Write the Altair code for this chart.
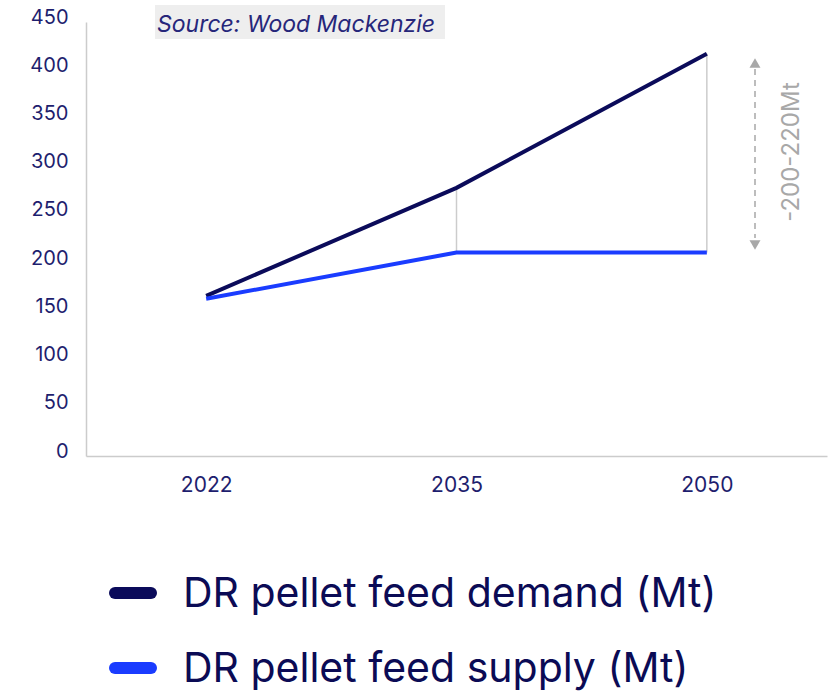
import altair as alt
import pandas as pd

years = ["2022", "2035", "2050"]
demand = [166, 278, 417]
supply = [163, 211, 211]
series_names = ["DR pellet feed demand (Mt)", "DR pellet feed supply (Mt)"]
series_colors = ["#0b0b5a", "#1a3cff"]
y_ticks = [0, 50, 100, 150, 200, 250, 300, 350, 400, 450]
source_text = "Source: Wood Mackenzie"
gap_text = "-200-220Mt"

rows = []
for yr, d, s in zip(years, demand, supply):
    rows.append({"year": yr, "series": series_names[0], "value": d})
    rows.append({"year": yr, "series": series_names[1], "value": s})
df = pd.DataFrame(rows)
gap_df = pd.DataFrame({"year": years[1:], "lo": supply[1:], "hi": demand[1:]})

AX = "#1e1e6e"
GRAY = "#cccccc"
ANN = "#a8a8a8"

xscale = alt.Scale(type="point", domain=years, padding=0.48)
yscale = alt.Scale(domain=[0, 450])
color = alt.Color("series:N", scale=alt.Scale(domain=series_names, range=series_colors), legend=None)

x_enc = alt.X("year:N", scale=xscale, sort=years,
              axis=alt.Axis(title=None, labelAngle=0, labelAlign="center", labelFontSize=21,
                            labelColor=AX, labelFont="Inter", ticks=False, labelPadding=29,
                            domainColor=GRAY, domainWidth=1.5, grid=False))
y_enc = alt.Y("value:Q", scale=yscale,
              axis=alt.Axis(title=None, values=y_ticks, labelFontSize=20, labelColor=AX,
                            labelFont="Inter", ticks=False, labelPadding=18, labelOffset=-5,
                            domainColor=GRAY, domainWidth=1.5, grid=False))

gaps = alt.Chart(gap_df).mark_rule(color=GRAY, strokeWidth=1.5).encode(
    x=alt.X("year:N", scale=xscale, sort=years),
    y=alt.Y("lo:Q", scale=yscale),
    y2="hi:Q",
)

lines = alt.Chart(df).mark_line(strokeWidth=4).encode(x=x_enc, y=y_enc, color=color)

box = alt.Chart(pd.DataFrame({"t": [source_text]})).mark_rect(color="#eeeeee").encode(
    x=alt.value(69), x2=alt.value(359), y=alt.value(-17), y2=alt.value(17))
src = alt.Chart(pd.DataFrame({"t": [source_text]})).mark_text(
    align="left", baseline="middle", fontSize=23, fontStyle="italic", font="Inter",
    color="#26267a").encode(x=alt.value(71), y=alt.value(3), text="t:N")

arrow_line = alt.Chart(pd.DataFrame({"a": [0]})).mark_rule(
    color=ANN, strokeWidth=1.5, strokeDash=[6, 5]).encode(
    x=alt.value(669), y=alt.value(47), y2=alt.value(216))
arrow_up = alt.Chart(pd.DataFrame({"a": [0]})).mark_point(
    shape="triangle-up", filled=True, color=ANN, size=120, opacity=1).encode(
    x=alt.value(669), y=alt.value(41))
arrow_dn = alt.Chart(pd.DataFrame({"a": [0]})).mark_point(
    shape="triangle-down", filled=True, color=ANN, size=120, opacity=1).encode(
    x=alt.value(669), y=alt.value(223))
gap_label = alt.Chart(pd.DataFrame({"t": [gap_text]})).mark_text(
    angle=270, align="center", baseline="middle", fontSize=24, font="Inter",
    color=ANN).encode(x=alt.value(706), y=alt.value(130), text="t:N")

leg_layers = []
leg_y = [571, 646]
for name, yy in zip(series_names, leg_y):
    ld = pd.DataFrame({"series": [name]})
    leg_layers.append(alt.Chart(ld).mark_rule(strokeWidth=12, strokeCap="round").encode(
        x=alt.value(29), x2=alt.value(65), y=alt.value(yy), color=color))
    leg_layers.append(alt.Chart(ld).mark_text(
        align="left", baseline="middle", fontSize=41, font="Inter", color="#0b0b55").encode(
        x=alt.value(97), y=alt.value(yy + 2), text="series:N"))

chart = alt.layer(gaps, lines, box, src, arrow_line, arrow_up, arrow_dn, gap_label, *leg_layers).properties(
    width=741, height=434,
    autosize=alt.AutoSizeParams(type="none"),
    padding={"left": 86, "top": 22, "right": 1, "bottom": 237},
).configure_view(stroke=None)

chart.save("out.html", embed_options={"renderer": "svg", "actions": False})
